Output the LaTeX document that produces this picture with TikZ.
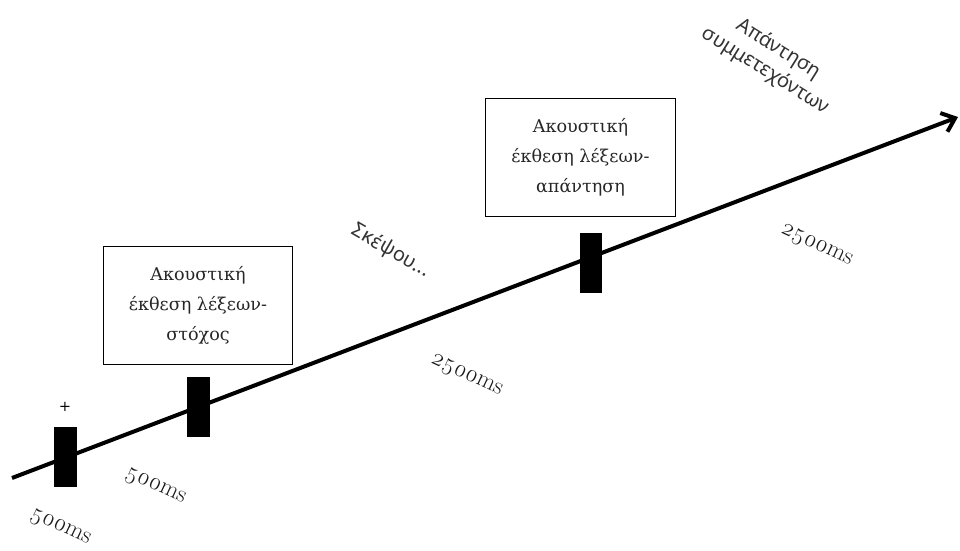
\documentclass[tikz,border=0pt]{standalone}
\usepackage{fontspec}
\setmainfont{DejaVu Serif}
\newfontfamily\labelfont{Noto Sans}
\usetikzlibrary{arrows.meta}
\newcommand{\msnum}[1]{{\fontspec{Latin Modern Roman}\oldstylenums{#1}ms}}
\begin{document}
\begin{tikzpicture}[x=0.75pt,y=-0.75pt,
  stim/.style={draw=black, line width=0.8pt, minimum width=142pt, minimum height=89pt,
    align=center, font=\fontsize{13.2}{22.5}\selectfont, text=black!85, inner sep=0pt},
  marker/.style={fill=black, minimum width=17pt, minimum height=45pt, inner sep=0pt},
  dur/.style={font=\fontsize{18}{20}\selectfont, text=black!90, rotate=-25},
  note/.style={font=\labelfont\fontsize{15}{19}\selectfont, text=black!80, align=center}]
\useasboundingbox (0,0) rectangle (960,550);

% time axis
\coordinate (t0) at (12,478);
\coordinate (t1) at (958,117);
\draw[line width=3pt, -{Straight Barb[length=9pt,width=15pt,line width=3pt]}] (t0) -- (t1);

% event markers
\node[marker] (m1) at (65.5,457) {};
\node[marker] (m2) at (198.5,407) {};
\node[marker] (m3) at (591,263) {};
\node[font=\fontsize{11}{12}\selectfont] (fix) at (65,407) {+};

% stimulus boxes
\node[stim] (b1) at (198,305.5) {Ακουστική\\έκθεση λέξεων-\\στόχος};
\node[stim] (b2) at (580.5,157.5) {Ακουστική\\έκθεση λέξεων-\\απάντηση};

% durations
\node[dur] (d1) at (60,528) {\msnum{500}};
\node[dur] (d2) at (155,487) {\msnum{500}};
\node[dur] (d3) at (466,376) {\msnum{2500}};
\node[dur] (d4) at (816,246) {\msnum{2500}};

% phase labels
\node[note, rotate=-30] (think) at (391,251) {Σκέψου...};
\node[note, rotate=-32] (resp) at (772,60) {Απάντηση\\συμμετεχόντων};
\end{tikzpicture}
\end{document}
